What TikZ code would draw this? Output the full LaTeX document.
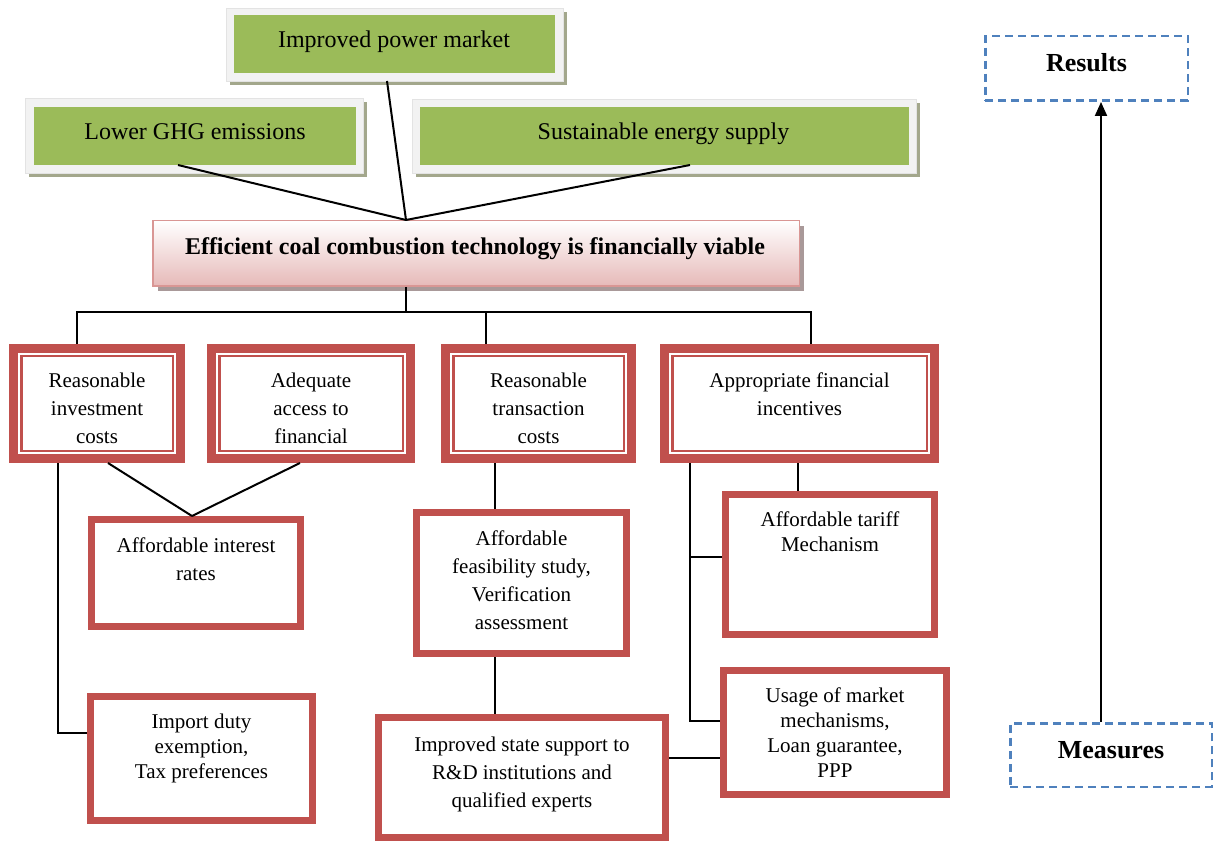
\documentclass[tikz,border=0pt]{standalone}
\usepackage{fontspec}
\setmainfont{Liberation Serif}
\usetikzlibrary{arrows.meta,shadows}
\definecolor{leafgreen}{HTML}{9BBB59}
\definecolor{framegray}{HTML}{F2F2F2}
\definecolor{frameedge}{HTML}{E3E3E3}
\definecolor{oliveshadow}{HTML}{A3A78C}
\definecolor{brickred}{HTML}{C0504D}
\definecolor{rosefill}{HTML}{E6B9B8}
\definecolor{roseedge}{HTML}{D99694}
\definecolor{roseshadow}{HTML}{A99999}
\definecolor{dashblue}{HTML}{4F81BD}

\begin{document}
\begin{tikzpicture}[x=1pt,y=-1pt,
  outframe/.style={fill=framegray, draw=frameedge, line width=0.8pt, inner sep=0, outer sep=0,
    drop shadow={shadow xshift=4pt, shadow yshift=-4pt, fill=oliveshadow, draw=none, opacity=1}},
  leaf/.style={fill=leafgreen, draw=none, inner sep=0, outer sep=0},
  goal/.style={top color=white, bottom color=rosefill, draw=roseedge, line width=1.5pt,
    inner sep=0, outer sep=0.75pt,
    drop shadow={shadow xshift=5pt, shadow yshift=-5pt, fill=roseshadow, draw=none, opacity=1}},
  factor/.style={draw=brickred, line width=9pt, fill=white, inner sep=0, outer sep=4.5pt,
    path picture={\draw[brickred, line width=2.5pt]
      ([shift={(7.75pt,-7.75pt)}]path picture bounding box.north west) rectangle
      ([shift={(-7.75pt,7.75pt)}]path picture bounding box.south east);}},
  measure/.style={draw=brickred, line width=7pt, fill=white, inner sep=0, outer sep=3.5pt},
  legendbox/.style={draw=dashblue, line width=2.5pt, dash pattern=on 8pt off 5pt,
    inner sep=0, outer sep=1.25pt},
  link/.style={line width=2pt, draw=black},
  % multi-line labels are placed by the baseline of their last line
  lbl/.style={inner sep=0, outer sep=0, align=center, anchor=base},
  big/.style={font=\fontsize{24}{30}\selectfont},
  bigbold/.style={font=\fontsize{24}{30}\selectfont\bfseries},
  legendfont/.style={font=\fontsize{26}{30}\selectfont\bfseries},
  body/.style={font=\fontsize{21}{28}\selectfont},
  tight/.style={font=\fontsize{21}{25}\selectfont}
]
\useasboundingbox (0,0) rectangle (1216,842);

% ---- outcome boxes (green) ----
\node[outframe, minimum width=337pt, minimum height=73pt] (powerF) at (394.5,44.5) {};
\node[leaf, minimum width=321pt, minimum height=58pt] (power) at (394.5,44) {};
\node[lbl, big] (powerT) at (394,48) {Improved power market};

\node[outframe, minimum width=338pt, minimum height=75pt] (ghgF) at (194,135.5) {};
\node[leaf, minimum width=322pt, minimum height=58pt] (ghg) at (195,136) {};
\node[lbl, big] (ghgT) at (195,140) {Lower GHG emissions};

\node[outframe, minimum width=504pt, minimum height=74pt] (sesF) at (664,136) {};
\node[leaf, minimum width=489pt, minimum height=58pt] (ses) at (664.5,136) {};
\node[lbl, big] (sesT) at (663.5,140) {Sustainable energy supply};

% ---- central goal ----
\node[goal, minimum width=646.5pt, minimum height=65.5pt] (goal) at (476,253.5) {};
\node[lbl, bigbold] (goalT) at (475,255) {Efficient coal combustion technology is financially viable};

% ---- conditions (double-framed) ----
\node[factor, minimum width=167pt, minimum height=110pt] (inv) at (97,403.5) {};
\node[lbl, body] (invT) at (97,443) {Reasonable\\investment\\costs};
\node[factor, minimum width=199pt, minimum height=110pt] (acc) at (311,403.5) {};
\node[lbl, body] (accT) at (311,443) {Adequate\\access to\\financial};
\node[factor, minimum width=186pt, minimum height=110pt] (trc) at (538.5,403.5) {};
\node[lbl, body] (trcT) at (538.5,443) {Reasonable\\transaction\\costs};
\node[factor, minimum width=270pt, minimum height=110pt] (inc) at (799.5,403.5) {};
\node[lbl, body] (incT) at (799.5,415) {Appropriate financial\\incentives};

% ---- measures ----
\node[measure, minimum width=209pt, minimum height=107pt] (air) at (196,573) {};
\node[lbl, body] (airT) at (196,580) {Affordable interest\\rates};
\node[measure, minimum width=222pt, minimum height=124pt] (imp) at (201.5,758.5) {};
\node[lbl, tight] (impT) at (201.5,778) {Import duty\\exemption,\\Tax preferences};
\node[measure, minimum width=210pt, minimum height=141pt] (fea) at (521.5,583) {};
\node[lbl, body] (feaT) at (521.5,629) {Affordable\\feasibility study,\\Verification\\assessment};
\node[measure, minimum width=287pt, minimum height=120pt] (rnd) at (522,777.5) {};
\node[lbl, body] (rndT) at (522,807) {Improved state support to\\R\&D institutions and\\qualified experts};
\node[measure, minimum width=209pt, minimum height=140pt] (tar) at (830,564.5) {};
\node[lbl, tight] (tarT) at (830,551) {Affordable tariff\\Mechanism};
\node[measure, minimum width=223pt, minimum height=124pt] (mkt) at (835,732.5) {};
\node[lbl, tight] (mktT) at (835,777) {Usage of market\\mechanisms,\\Loan guarantee,\\PPP};

% ---- legend ----
\node[legendbox, minimum width=202.5pt, minimum height=64.5pt] (res) at (1086.5,68.5) {};
\node[lbl, legendfont] (resT) at (1086.5,72) {Results};
\node[legendbox, minimum width=201.5pt, minimum height=63.5pt] (mea) at (1111,755) {};
\node[lbl, legendfont] (meaT) at (1111,758) {Measures};
\draw[link, -{Triangle[length=14pt,width=12pt]}] ([xshift=-10pt]mea.north) -- ([xshift=14.5pt]res.south);

% ---- connectors: outcomes to goal ----
\coordinate (hub) at ([xshift=-70pt]goal.north);
\draw[link] ([xshift=-17pt]ghg.south) -- (hub);
\draw[link] ([xshift=-7.5pt]powerF.south) -- (hub);
\draw[link] ([xshift=25.5pt]ses.south) -- (hub);

% ---- goal to conditions ----
\coordinate (bus) at ([xshift=-70pt,yshift=-25pt]goal.south);
\draw[link] ([xshift=-70pt]goal.south) -- (bus);
\draw[link] ([xshift=-20pt]inv.north) |- (bus) -| ([xshift=11.5pt]inc.north);
\draw[link] ([xshift=-52.5pt]trc.north) |- (bus);

% ---- conditions to measures ----
\coordinate (meet) at ([xshift=-4pt]air.north);
\draw[link] ([xshift=11pt]inv.south) -- (meet);
\draw[link] ([xshift=-11pt]acc.south) -- (meet);
\draw[link] ([xshift=-39pt]inv.south) |- ([yshift=25.5pt]imp.west);
\draw[link] ([xshift=-43.5pt]trc.south) -- ([xshift=-26.5pt]fea.north);
\draw[link] ([xshift=-26.5pt]fea.south) -- ([xshift=-27pt]rnd.north);
\draw[link] ([yshift=19.5pt]rnd.east) -- ([yshift=-25.5pt]mkt.west);
\coordinate (drop) at ([xshift=-109.5pt]inc.south);
\draw[link] (drop) |- ([yshift=11.5pt]mkt.west);
\draw[link] ([yshift=7.5pt]tar.west) -| (drop);
\draw[link] ([xshift=-1.5pt]inc.south) -- ([xshift=-32pt]tar.north);
\end{tikzpicture}
\end{document}
